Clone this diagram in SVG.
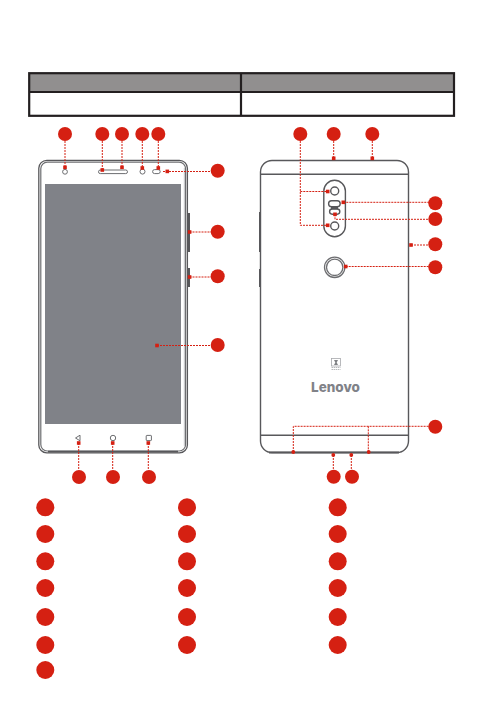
<svg xmlns="http://www.w3.org/2000/svg" width="483" height="710" viewBox="0 0 483 710">
<style>
.n{fill:#d52012}
.c{fill:none;stroke:#d52012;stroke-width:1;stroke-dasharray:2 1}
.o{fill:none;stroke:#58585b;stroke-width:1.4}
.t{fill:none;stroke:#231f20;stroke-width:2.2}
.i{fill:#fff;stroke:#6d6e71;stroke-width:1}
</style>
<rect width="483" height="710" fill="#fff"/>
<g id="table">
<rect x="29" y="73" width="425" height="19" fill="#918f8f"/>
<rect x="29.2" y="73.2" width="424.8" height="42.6" class="t"/>
<path d="M29 92H454M241 73V116" class="t"/>
</g>
<g id="phone-front">
<rect x="38.8" y="160.3" width="148.6" height="292.6" rx="8" fill="#fff" stroke="#58585b" stroke-width="1.3"/>
<rect x="40.8" y="162.2" width="144.8" height="288.8" rx="6.5" fill="#fff" stroke="#6d6e71" stroke-width="1.2"/>
<path d="M184.4 168V446" stroke="#c9cacc" stroke-width="1.2" fill="none"/>
<path d="M48 451.6H178" stroke="#58585b" stroke-width="1.8" fill="none"/>
<rect x="45" y="184" width="136" height="240" fill="#808288"/>
<rect x="188" y="213" width="2" height="39" fill="#58585b"/>
<rect x="188" y="268" width="2" height="19" fill="#58585b"/>
<circle cx="65" cy="171.8" r="2.4" class="i"/>
<rect x="98.5" y="170" width="29" height="3.6" rx="1.8" class="i"/>
<circle cx="142.5" cy="171.6" r="2.5" class="i"/>
<rect x="152.6" y="169.6" width="7.6" height="4" rx="2" class="i"/>
<path d="M75.5 438L80 435.2V440.8Z" class="i"/>
<circle cx="113" cy="438" r="2.7" class="i"/>
<rect x="146.2" y="435.4" width="5.2" height="5.2" rx=".6" class="i"/>
</g>
<g id="phone-back">
<path d="M260.5 174.3V172a11.5 11.5 0 0 1 11.5-11.5H397a11.5 11.5 0 0 1 11.5 11.5V441a11.5 11.5 0 0 1-11.5 11.5H272a11.5 11.5 0 0 1-11.5-11.5Z" fill="#fff" class="o"/>
<path d="M260.5 174.3H408.5M260.5 435.3H408.5" class="o"/>
<path d="M269 452.4H399" stroke="#58585b" stroke-width="2" fill="none"/>
<rect x="259" y="212" width="2" height="40" fill="#58585b"/>
<rect x="259" y="269" width="2" height="18" fill="#58585b"/>
<rect x="323.8" y="180.3" width="21.6" height="56.4" rx="10.8" class="o"/>
<circle cx="334.7" cy="191" r="4" class="o"/>
<circle cx="334.7" cy="226" r="4" class="o"/>
<rect x="328.6" y="200.8" width="11.6" height="6" rx="3" class="o"/>
<rect x="329.6" y="209" width="10.2" height="5.2" rx="2.6" class="o"/>
<rect x="331" y="206.6" width="7" height="2.6" fill="#58585b"/>
<circle cx="334.7" cy="267.3" r="10.2" fill="#fff" stroke="#6d6e71" stroke-width="1.3"/>
<circle cx="334.7" cy="267.3" r="8.2" fill="#fff" stroke="#6d6e71" stroke-width="1.3"/>
<rect x="331.5" y="358.5" width="9" height="7.5" fill="#fff" stroke="#a7a9ac" stroke-width=".8"/>
<path d="M334 360h4l-1.3 2.5 1.3 2.5h-4l1.3-2.5Z" fill="#808285"/>
<path d="M331.5 367.5h9M331.5 369.5h9" stroke="#a7a9ac" stroke-width=".8" stroke-dasharray="1.5 .6" fill="none"/>
<text x="335.5" y="392" text-anchor="middle" font-family="Inter, 'Liberation Sans', sans-serif" font-weight="800" font-size="13.5" fill="#808288">Lenovo</text>
</g>
<g id="connectors">
<path class="c" d="M65 141V167M102.3 141V170M122 141V167M142.3 141V168M158.3 141V168M163 171.5H211M189.5 232H211M189.5 277H211M157 345.5H211M78.7 443V470M112.7 443V470M148.3 443V470"/>
<path class="c" d="M300.3 141V225.3H327.7M300.3 191.5H327.7M333.7 141V158.3M372.3 141V158.3M343.3 202.3H429M335 214.3V219.3H429M411 245H429M345.7 266.5H429M293.3 452V426.3H429M368.3 426.3V452M333.3 455V470M351.3 455V470"/>
<g class="n">
<rect x="63.2" y="165.5" width="3.6" height="3.6"/><rect x="100.5" y="168.2" width="3.6" height="3.6"/><rect x="120.2" y="165.5" width="3.6" height="3.6"/><rect x="140.5" y="166.2" width="3.6" height="3.6"/><rect x="156.5" y="166.2" width="3.6" height="3.6"/><rect x="165.5" y="169.6" width="3.6" height="3.6"/><rect x="187.8" y="230.2" width="3.6" height="3.6"/><rect x="187.8" y="275.2" width="3.6" height="3.6"/><rect x="155.2" y="343.7" width="3.6" height="3.6"/><rect x="76.9" y="441.2" width="3.6" height="3.6"/><rect x="110.9" y="441.2" width="3.6" height="3.6"/><rect x="146.5" y="441.2" width="3.6" height="3.6"/>
<rect x="325.9" y="189.7" width="3.6" height="3.6"/><rect x="325.9" y="223.5" width="3.6" height="3.6"/><rect x="331.9" y="156.5" width="3.6" height="3.6"/><rect x="370.5" y="156.5" width="3.6" height="3.6"/><rect x="341.5" y="200.5" width="3.6" height="3.6"/><rect x="333.2" y="212.5" width="3.6" height="3.6"/><rect x="409.2" y="243.2" width="3.6" height="3.6"/><rect x="343.9" y="264.7" width="3.6" height="3.6"/><circle cx="293.3" cy="452" r="1.9"/><circle cx="368.7" cy="452" r="1.9"/><circle cx="333.3" cy="455" r="1.9"/><circle cx="351.3" cy="455" r="1.9"/>
</g>
</g>
<g id="callouts" class="n">
<circle id="f1" cx="65" cy="134" r="7"/><circle id="f2" cx="102.3" cy="134" r="7"/><circle id="f3" cx="122" cy="134" r="7"/><circle id="f4" cx="142.3" cy="134" r="7"/><circle id="f5" cx="158.3" cy="134" r="7"/>
<circle id="f6" cx="217.7" cy="170.7" r="7"/><circle id="f7" cx="217.7" cy="231.7" r="7"/><circle id="f8" cx="217.7" cy="276.3" r="7"/><circle id="f9" cx="217.7" cy="345" r="7"/>
<circle id="f10" cx="79" cy="477" r="7"/><circle id="f11" cx="113" cy="477" r="7"/><circle id="f12" cx="149" cy="477" r="7"/>
<circle id="b1" cx="300.3" cy="134" r="7"/><circle id="b2" cx="333.7" cy="134" r="7"/><circle id="b3" cx="372.3" cy="134" r="7"/>
<circle id="b4" cx="435.3" cy="203.3" r="7"/><circle id="b5" cx="435.3" cy="219" r="7"/><circle id="b6" cx="435.3" cy="244.3" r="7"/><circle id="b7" cx="435.3" cy="267.3" r="7"/><circle id="b8" cx="435.3" cy="426.7" r="7"/>
<circle id="b9" cx="333.7" cy="476.7" r="7"/><circle id="b10" cx="352" cy="476.7" r="7"/>
</g>
<g id="legend" class="n">
<circle cx="45.3" cy="507.3" r="9"/><circle cx="45.3" cy="534" r="9"/><circle cx="45.3" cy="561.3" r="9"/><circle cx="45.3" cy="588" r="9"/><circle cx="45.3" cy="617" r="9"/><circle cx="45.3" cy="645" r="9"/><circle cx="45.3" cy="670" r="9"/>
<circle cx="187" cy="507.3" r="9"/><circle cx="187" cy="534" r="9"/><circle cx="187" cy="561.3" r="9"/><circle cx="187" cy="588" r="9"/><circle cx="187" cy="617" r="9"/><circle cx="187" cy="645" r="9"/>
<circle cx="337.7" cy="507.3" r="9"/><circle cx="337.7" cy="534" r="9"/><circle cx="337.7" cy="561.3" r="9"/><circle cx="337.7" cy="588" r="9"/><circle cx="337.7" cy="617" r="9"/><circle cx="337.7" cy="645" r="9"/>
</g>
</svg>
